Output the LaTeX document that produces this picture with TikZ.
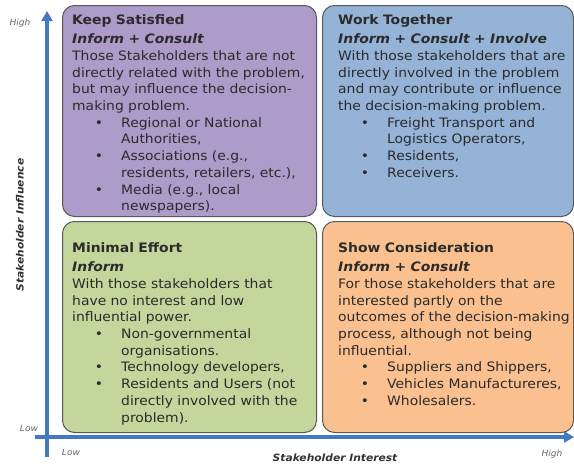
\documentclass[tikz,border=0pt]{standalone}
\usepackage{fontspec}
\setmainfont{DejaVu Sans}[FakeStretch=1.07]
\usepackage{enumitem}
\usetikzlibrary{arrows.meta}

\definecolor{ksfill}{HTML}{AD9BC9}
\definecolor{wtfill}{HTML}{95B3D7}
\definecolor{mefill}{HTML}{C3D69B}
\definecolor{scfill}{HTML}{FAC090}
\definecolor{axisblue}{HTML}{4279C1}
\definecolor{labelgray}{HTML}{666666}
\definecolor{bodygray}{HTML}{2B2B2B}

\setlist[itemize]{label=\textbullet, leftmargin=49pt, labelsep=18pt,
  itemsep=0pt, parsep=0pt, topsep=0pt, partopsep=0pt}

% title, approach, then the body text
\newcommand{\quadhead}[2]{{\bfseries #1}\par\vspace{3pt}{\bfseries\itshape #2}\par}

\begin{document}
\begin{tikzpicture}[x=1pt, y=-1pt,
    quad/.style={draw=black!65, line width=1pt, rounded corners=12pt,
      anchor=north west, minimum width=#1, minimum height=211pt, inner sep=0pt},
    quadtxt/.style={anchor=north west, inner sep=0pt, text width=250pt, align=left,
      text=bodygray, font=\fontsize{13}{16.7}\selectfont},
    axislbl/.style={text=labelgray, font=\fontsize{8.5}{10}\selectfont\itshape},
    axistitle/.style={text=black!80, font=\fontsize{10}{12}\selectfont\bfseries\itshape}]
\useasboundingbox (0,0) rectangle (574,466);

% axes
\coordinate (yBot) at (47,457);
\coordinate (yTop) at (47,11);
\coordinate (xLeft) at (35,437);
\coordinate (xRight) at (574,437);
\draw[axisblue, line width=3.5pt, -{Triangle[width=11pt,length=10pt]}] (yBot) -- (yTop);
\draw[axisblue, line width=3.5pt, -{Triangle[width=11pt,length=10pt]}] (xLeft) -- (xRight);

\node[axislbl] (yHigh) at (20,23) {High};
\node[axislbl] (yLow) at (29,428) {Low};
\node[axislbl] (xLow) at (71,452) {Low};
\node[axislbl] (xHigh) at (552,454) {High};
\node[axistitle, rotate=90] (yTitle) at (20,225) {Stakeholder Influence};
\node[axistitle] (xTitle) at (335,458) {Stakeholder Interest};

% the four quadrants
\node[quad=254pt, fill=ksfill] (ks) at (62,5) {};
\node[quad=251pt, fill=wtfill] (wt) at (322,5) {};
\node[quad=254pt, fill=mefill] (me) at (62,221) {};
\node[quad=251pt, fill=scfill] (sc) at (322,221) {};

\node[quadtxt] (ksText) at ([xshift=10pt, yshift=-9pt]ks.north west) {%
  \quadhead{Keep Satisfied}{Inform + Consult}
  Those Stakeholders that are not\\
  directly related with the problem,\\
  but may influence the decision-\\
  making problem.
  \begin{itemize}
    \item Regional or National\\ Authorities,
    \item Associations (e.g.,\\ residents, retailers, etc.),
    \item Media (e.g., local\\ newspapers).
  \end{itemize}};

\node[quadtxt] (wtText) at ([xshift=16pt, yshift=-9pt]wt.north west) {%
  \quadhead{Work Together}{Inform + Consult + Involve}
  With those stakeholders that are\\
  directly involved in the problem\\
  and may contribute or influence\\
  the decision-making problem.
  \begin{itemize}
    \item Freight Transport and\\ Logistics Operators,
    \item Residents,
    \item Receivers.
  \end{itemize}};

\node[quadtxt] (meText) at ([xshift=10pt, yshift=-21pt]me.north west) {%
  \quadhead{Minimal Effort}{Inform}
  With those stakeholders that\\
  have no interest and low\\
  influential power.
  \begin{itemize}
    \item Non-governmental\\ organisations.
    \item Technology developers,
    \item Residents and Users (not\\ directly involved with the\\ problem).
  \end{itemize}};

\node[quadtxt] (scText) at ([xshift=16pt, yshift=-21pt]sc.north west) {%
  \quadhead{Show Consideration}{Inform + Consult}
  For those stakeholders that are\\
  interested partly on the\\
  outcomes of the decision-making\\
  process, although not being\\
  influential.
  \begin{itemize}
    \item Suppliers and Shippers,
    \item Vehicles Manufactureres,
    \item Wholesalers.
  \end{itemize}};
\end{tikzpicture}
\end{document}
